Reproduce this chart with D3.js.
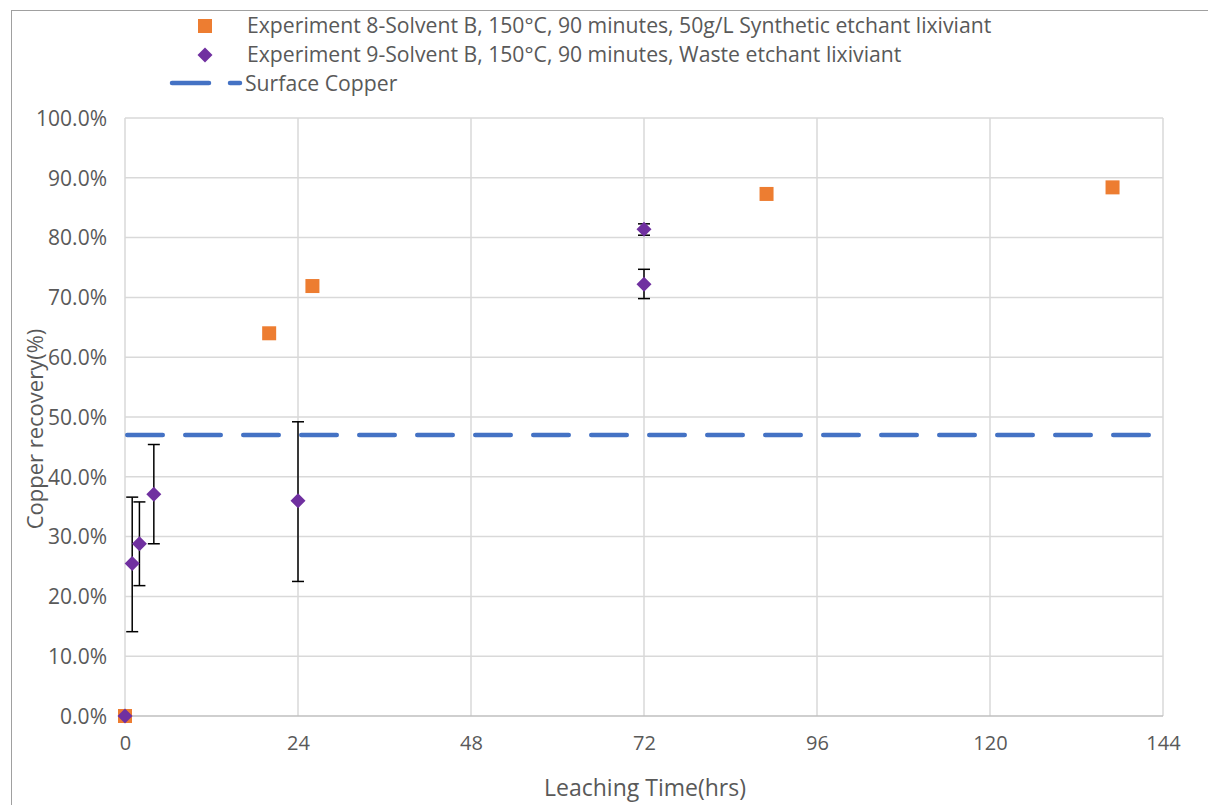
<!DOCTYPE html>
<html>
<head>
<meta charset="utf-8">
<script src="https://cdn.jsdelivr.net/npm/d3@7"></script>
<style>
  html, body { margin: 0; padding: 0; background: #fff; }
  svg text { font-family: "Open Sans", "Noto Sans", sans-serif; fill: #595959; }
</style>
</head>
<body>
<svg id="chart" width="1208" height="805"></svg>
<script>
// Leaching time (hrs) and copper recovery (fraction)
const exp8Hours = [0, 20, 26, 89, 137];
const exp8Recovery = [0.000, 0.640, 0.719, 0.873, 0.884];

const exp9Hours = [0, 1, 2, 4, 24, 72, 72];
const exp9Recovery = [0.000, 0.255, 0.288, 0.371, 0.360, 0.814, 0.722];
const exp9ErrLow = [0.000, 0.141, 0.218, 0.288, 0.225, 0.804, 0.698];
const exp9ErrHigh = [0.000, 0.366, 0.358, 0.454, 0.492, 0.823, 0.747];

const surfaceCopper = 0.47;

const xTicks = [0, 24, 48, 72, 96, 120, 144];
const yTicks = [0, 0.1, 0.2, 0.3, 0.4, 0.5, 0.6, 0.7, 0.8, 0.9, 1.0];

const legendLabels = [
  "Experiment 8-Solvent B, 150°C, 90 minutes, 50g/L Synthetic etchant lixiviant",
  "Experiment 9-Solvent B, 150°C, 90 minutes, Waste etchant lixiviant",
  "Surface Copper"
];

const colors = { exp8: "#ED7D31", exp9: "#7030A0", surface: "#4472C4", grid: "#D9D9D9" };

const svg = d3.select("#chart");
const plot = { left: 125, right: 1163, top: 118, bottom: 716 };

const x = d3.scaleLinear().domain([0, 144]).range([plot.left, plot.right]);
const y = d3.scaleLinear().domain([0, 1]).range([plot.bottom, plot.top]);

// chart frame
svg.append("rect")
  .attr("x", 11.5).attr("y", 10.5)
  .attr("width", 1300).attr("height", 900)
  .attr("fill", "none").attr("stroke", "#A0A0A0").attr("stroke-width", 1);

// gridlines
const g = svg.append("g");
g.selectAll("line.hgrid").data(yTicks.filter(d => d > 0)).join("line")
  .attr("class", "hgrid")
  .attr("x1", plot.left).attr("x2", plot.right)
  .attr("y1", d => y(d)).attr("y2", d => y(d))
  .attr("stroke", colors.grid).attr("stroke-width", 1.5);
g.selectAll("line.vgrid").data(xTicks).join("line")
  .attr("class", "vgrid")
  .attr("y1", plot.top).attr("y2", plot.bottom)
  .attr("x1", d => x(d)).attr("x2", d => x(d))
  .attr("stroke", colors.grid).attr("stroke-width", 1.5);
// horizontal axis line
g.append("line")
  .attr("x1", plot.left).attr("x2", plot.right)
  .attr("y1", y(0)).attr("y2", y(0))
  .attr("stroke", "#BFBFBF").attr("stroke-width", 1.5);

// axes (labels only)
const xAxis = d3.axisBottom(x).tickValues(xTicks).tickSize(0).tickPadding(20).tickFormat(d3.format("d"));
const yAxis = d3.axisLeft(y).tickValues(yTicks).tickSize(0).tickPadding(18).tickFormat(d3.format(".1%"));

const gx = svg.append("g").attr("transform", `translate(0,${plot.bottom})`).call(xAxis);
gx.select(".domain").remove();
gx.selectAll("text").style("font-size", "20px").attr("fill", "#595959");

const gy = svg.append("g").attr("transform", `translate(${plot.left},0)`).call(yAxis);
gy.select(".domain").remove();
gy.selectAll("text").style("font-size", "21px").attr("fill", "#595959").attr("dy", "0.35em");

// axis titles
svg.append("text")
  .attr("x", 645).attr("y", 796)
  .attr("text-anchor", "middle")
  .style("font-size", "23px")
  .text("Leaching Time(hrs)");
svg.append("text")
  .attr("transform", "translate(43,429) rotate(-90)")
  .attr("text-anchor", "middle")
  .style("font-size", "22px")
  .text("Copper recovery(%)");

// surface copper reference line
svg.append("line")
  .attr("x1", plot.left + 2.25).attr("x2", plot.right)
  .attr("y1", y(surfaceCopper)).attr("y2", y(surfaceCopper))
  .attr("stroke", colors.surface).attr("stroke-width", 4.5)
  .attr("stroke-linecap", "round").attr("stroke-dasharray", "35.5,22.5");

// error bars for experiment 9
const exp9 = exp9Hours.map((h, i) => ({ h, v: exp9Recovery[i], lo: exp9ErrLow[i], hi: exp9ErrHigh[i] }));
const eb = svg.append("g").attr("stroke", "#000").attr("stroke-width", 1.5);
exp9.filter(d => d.hi > d.lo).forEach(d => {
  eb.append("line").attr("x1", x(d.h)).attr("x2", x(d.h)).attr("y1", y(d.lo)).attr("y2", y(d.hi));
  [d.lo, d.hi].forEach(v => {
    eb.append("line").attr("x1", x(d.h) - 6).attr("x2", x(d.h) + 6).attr("y1", y(v)).attr("y2", y(v));
  });
});

// experiment 8 markers (squares)
const sq = 14;
svg.append("g").selectAll("rect")
  .data(exp8Hours.map((h, i) => ({ h, v: exp8Recovery[i] })))
  .join("rect")
  .attr("x", d => x(d.h) - sq / 2).attr("y", d => y(d.v) - sq / 2)
  .attr("width", sq).attr("height", sq)
  .attr("fill", colors.exp8);

// experiment 9 markers (diamonds)
const diamond = "M0,-7.5L7.5,0L0,7.5L-7.5,0Z";
svg.append("g").selectAll("path")
  .data(exp9)
  .join("path")
  .attr("transform", d => `translate(${x(d.h)},${y(d.v)})`)
  .attr("d", diamond)
  .attr("fill", colors.exp9);

// legend
const lg = svg.append("g");
lg.append("rect").attr("x", 198).attr("y", 19).attr("width", 14).attr("height", 14).attr("fill", colors.exp8);
lg.append("path").attr("transform", "translate(205,55)").attr("d", diamond).attr("fill", colors.exp9);
lg.append("line")
  .attr("x1", 172).attr("x2", 240).attr("y1", 83).attr("y2", 83)
  .attr("stroke", colors.surface).attr("stroke-width", 4.5)
  .attr("stroke-linecap", "round").attr("stroke-dasharray", "37,21");
const legendY = [26, 55, 84];
const legendX = [247, 247, 245];
legendLabels.forEach((t, i) => {
  lg.append("text")
    .attr("x", legendX[i]).attr("y", legendY[i]).attr("dy", "0.35em")
    .style("font-size", "21.2px")
    .text(t);
});
</script>
</body>
</html>
